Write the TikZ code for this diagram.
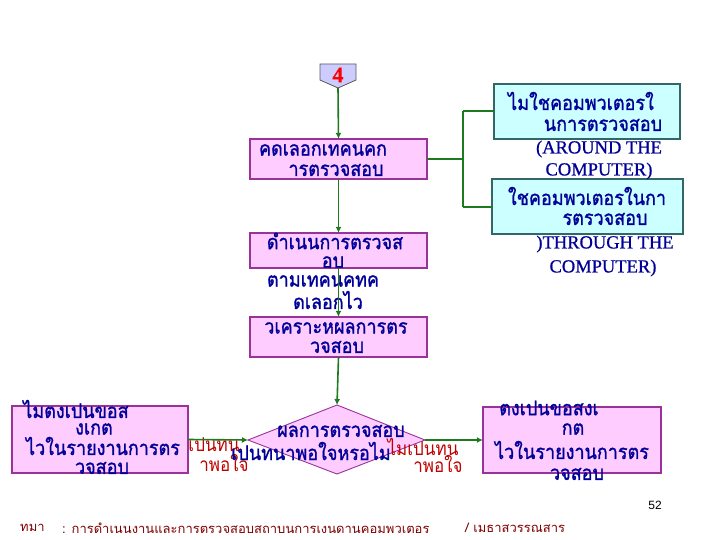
\documentclass[tikz,border=0pt]{standalone}
\usepackage{fontspec}
\usepackage{graphicx}
\setmainfont{Liberation Serif}
\newfontfamily\thai[Script=Thai,FakeBold=1.3]{Loma}
\newfontfamily\thaiplain[Script=Thai]{Loma}
\newfontfamily\engf[FakeBold=0.8]{Liberation Serif}
\newfontfamily\sansf{Liberation Sans}
\newcommand\tv[1]{\scalebox{1}[1.12]{#1}}
\usetikzlibrary{arrows.meta}
\definecolor{pinkfill}{HTML}{FFCCFF}
\definecolor{pinkline}{HTML}{993399}
\definecolor{cyanfill}{HTML}{CCFFFF}
\definecolor{cyanline}{HTML}{336666}
\definecolor{txtblue}{HTML}{000099}
\definecolor{arrgreen}{HTML}{1E7A1E}
\definecolor{lblred}{HTML}{C00000}
\definecolor{footred}{HTML}{800000}
\definecolor{pentfill}{HTML}{CCCCFF}
\begin{document}
\begin{tikzpicture}[x=1pt,y=-1pt,
  pinkbox/.style={draw=pinkline,fill=pinkfill,line width=1.2pt},
  cyanbox/.style={draw=cyanline,fill=cyanfill,line width=1.2pt},
  th/.style={inner sep=0pt,text=txtblue,font=\thai\fontsize{18}{20}\selectfont},
  en/.style={inner sep=0pt,text=txtblue,font=\engf\fontsize{18.5}{20}\selectfont},
  rl/.style={inner sep=0pt,text=lblred,font=\thaiplain\fontsize{17}{18}\selectfont},
  conn/.style={draw=arrgreen,line width=1.6pt},
  arr/.style={conn,-{Latex[length=6pt,width=6pt]}}]
\useasboundingbox (0,0) rectangle (720,540);
\fill[white] (0,0) rectangle (720,540);
% pentagon connector
\draw[fill=pentfill,draw=gray!70!black,line width=0.8pt] (320,64) -- (356,64) -- (356,80) -- (338,88) -- (320,80) -- cycle;
\node[inner sep=0pt,text=red,font=\engf\bfseries\fontsize{22}{22}\selectfont] (four) at (338,75) {4};
\coordinate (fourbot) at (338,88);
% boxes
\draw[pinkbox] (250,139) rectangle (427,179);
\node (b1) at (338.5,159) [minimum width=177pt,minimum height=40pt,inner sep=0pt] {};
\node[th] (b1a) at (323,150) {\tv{คดเลอกเทคนคก}};
\node[th] (b1b) at (336,170) {\tv{ารตรวจสอบ}};
\draw[pinkbox] (250,233) rectangle (427,268);
\node (b2) at (338.5,250.5) [minimum width=177pt,minimum height=35pt,inner sep=0pt] {};
\node[th] at (335,241) {\tv{ดำเนนการตรวจส}};
\node[th] at (333,262) {\tv{อบ}};
\node[th] at (323,281) {\tv{ตามเทคนคทค}};
\node[th] at (328,300) {\tv{ดเลอกไว}};
\draw[pinkbox] (250,317) rectangle (427,357);
\node (b3) at (338.5,337) [minimum width=177pt,minimum height=40pt,inner sep=0pt] {};
\node[th] at (336,328) {\tv{วเคราะหผลการตร}};
\node[th] at (337,347) {\tv{วจสอบ}};
% right cyan boxes
\draw[cyanbox] (494,84) rectangle (680,139);
\node (r1) at (587,111.5) [minimum width=186pt,minimum height=55pt,inner sep=0pt] {};
\draw[cyanbox] (492,179) rectangle (683,234);
\node (r2) at (587.5,206.5) [minimum width=191pt,minimum height=55pt,inner sep=0pt] {};
\node[th] at (581,101) {\tv{ไมใชคอมพวเตอรใ}};
\node[th] at (603,125) {\tv{นการตรวจสอบ}};
\node[en] at (599,149) {(AROUND THE};
\node[en] at (599,171) {COMPUTER)};
\node[th] at (587,196) {\tv{ใชคอมพวเตอรในกา}};
\node[th] at (605,219) {\tv{รตรวจสอบ}};
\node[en] at (605,244) {)THROUGH THE};
\node[en] at (603,268) {COMPUTER)};
% diamond
\draw[pinkbox,line width=0.9pt] (337,405) -- (425,440) -- (337,474) -- (248,440) -- cycle;
\node (dia) at (337,440) [minimum width=177pt,minimum height=69pt,inner sep=0pt] {};
\coordinate (diaW) at (248,440);
\coordinate (diaE) at (425,440);
\coordinate (diaN) at (337,405);
% red labels
\node[rl] at (214,445) {\tv{เปนทน}};
\node[rl] at (224,463) {\tv{าพอใจ}};
\node[rl] at (423,447) {\tv{ไมเปนทน}};
\node[rl] at (438,464) {\tv{าพอใจ}};
\node[th] at (341,431) {\tv{ผลการตรวจสอบ}};
\node[th] at (311,451) {\tv{เปนทนาพอใจหรอไม}};
% bottom boxes
\draw[pinkbox] (12,406) rectangle (188,473);
\node (lb) at (100,439.5) [minimum width=176pt,minimum height=67pt,inner sep=0pt] {};
\node[th] at (76,409) {\tv{ไมตงเปนขอส}};
\node[th] at (94,429) {\tv{งเกต}};
\node[th] at (103,446) {\tv{ไวในรายงานการตร}};
\node[th] at (102,468) {\tv{วจสอบ}};
\draw[pinkbox] (483,407) rectangle (661,473);
\node (rb) at (572,440) [minimum width=178pt,minimum height=66pt,inner sep=0pt] {};
\node[th] at (549,408) {\tv{ตงเปนขอสงเ}};
\node[th] at (573,429) {\tv{กต}};
\node[th] at (572,450) {\tv{ไวในรายงานการตร}};
\node[th] at (577,474) {\tv{วจสอบ}};
% connectors
\draw[arr] (fourbot) -- (b1.north);
\draw[arr] (b1.south) -- (b2.north);
\draw[arr] (b2.south) -- (b3.north);
\draw[arr] (b3.south) -- (diaN);
\draw[arr] (lb.east) -- (diaW);
\draw[arr] (diaE) -- (rb.west);
\coordinate (jn) at (463,159);
\draw[conn] (b1.east) -- (jn);
\draw[conn] (463,111) -- (463,207);
\draw[conn] (463,111) -- (r1.west |- 0,111);
\draw[conn] (463,207) -- (r2.west |- 0,207);
% footer
\node[inner sep=0pt,font=\sansf\fontsize{12}{14}\selectfont] at (655,505) {52};
\node[inner sep=0pt,anchor=west,text=footred,font=\thaiplain\fontsize{13}{14}\selectfont] at (20,528) {ทมา};
\node[inner sep=0pt,anchor=west,text=footred,font=\thaiplain\fontsize{13}{14}\selectfont] at (62,528) {: การดำเนนงานและการตรวจสอบสถาบนการเงนดานคอมพวเตอร};
\node[inner sep=0pt,anchor=west,text=footred,font=\thaiplain\fontsize{13}{14}\selectfont] at (465,528) {/ เมธาสวรรณสาร};
\end{tikzpicture}
\end{document}
